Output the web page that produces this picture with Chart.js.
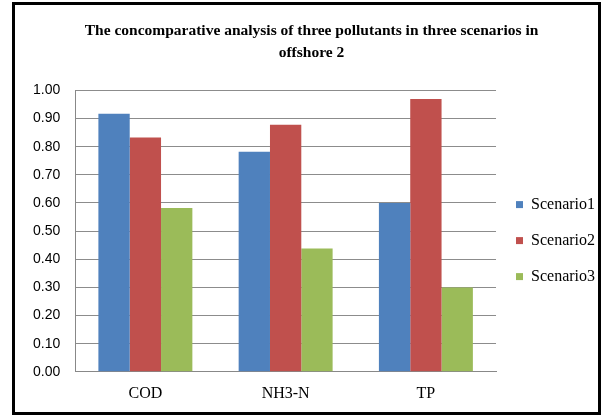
<!DOCTYPE html>
<html>
<head>
<meta charset="utf-8">
<script src="https://cdn.jsdelivr.net/npm/chart.js@4"></script>
<style>
  html, body { margin: 0; padding: 0; background: #fff; }
  #frame {
    position: absolute; left: 12px; top: 2px;
    width: 583px; height: 407px;
    border: 3px solid #000;
    background: #fff;
  }
  #chart { display: block; }
</style>
</head>
<body>
<div id="frame"><canvas id="chart" width="583" height="407"></canvas></div>
<script>
const categories = ['COD', 'NH3-N', 'TP'];
const scenario1 = [0.917, 0.782, 0.600];
const scenario2 = [0.833, 0.878, 0.969];
const scenario3 = [0.582, 0.438, 0.300];
const seriesNames = ['Scenario1', 'Scenario2', 'Scenario3'];
const seriesColors = ['#4F81BD', '#C0504D', '#9BBB59'];
const titleLines = ['The concomparative analysis of three pollutants in three scenarios in', 'offshore 2'];

const ctx = document.getElementById('chart').getContext('2d');
const chart = new Chart(ctx, {
    type: 'bar',
    data: {
        labels: categories,
        datasets: [scenario1, scenario2, scenario3].map((vals, i) => ({
            label: seriesNames[i],
            data: vals,
            backgroundColor: seriesColors[i],
            borderWidth: 0,
            categoryPercentage: 0.67,
            barPercentage: 1.0
        }))
    },
    options: {
        responsive: false,
        animation: false,
        layout: { padding: { left: 3, right: -7, top: 0, bottom: 5 } },
        plugins: {
            title: {
                display: true,
                text: titleLines,
                color: '#000',
                font: { family: 'Liberation Serif', size: 15.5, weight: 'bold', lineHeight: 1.4 },
                padding: { top: 15, bottom: 27 }
            },
            legend: {
                position: 'right',
                title: {
                    display: true,
                    text: ' ',
                    font: { size: 16 },
                    padding: { top: 25, bottom: 25 }
                },
                labels: {
                    color: '#000',
                    font: { family: 'Liberation Serif', size: 16 },
                    boxWidth: 7,
                    boxHeight: 7,
                    padding: 20
                }
            },
            tooltip: { enabled: false }
        },
        scales: {
            x: {
                grid: { display: false },
                border: { color: '#888', width: 1 },
                ticks: {
                    color: '#000',
                    font: { family: 'Liberation Serif', size: 16 },
                    padding: 4
                }
            },
            y: {
                min: 0,
                max: 1,
                grid: { color: '#8c8c8c', drawTicks: false },
                border: { color: '#888', width: 1 },
                ticks: {
                    stepSize: 0.1,
                    color: '#000',
                    font: { family: 'Liberation Sans', size: 14 },
                    padding: 15,
                    callback: (v) => v.toFixed(2)
                }
            }
        }
    }
});
</script>
</body>
</html>
